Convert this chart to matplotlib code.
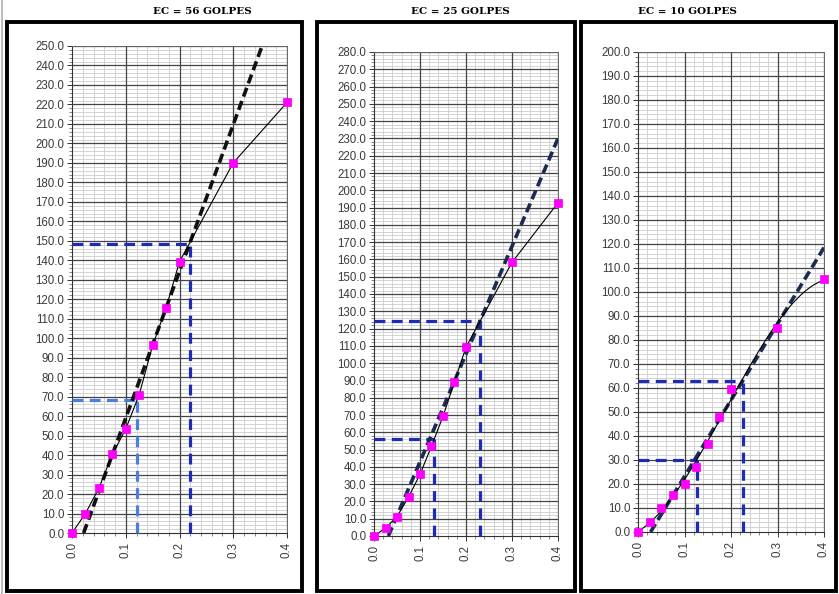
import matplotlib
matplotlib.use("Agg")
import matplotlib.pyplot as plt
import numpy as np
from matplotlib.patches import Rectangle
from matplotlib.lines import Line2D
from matplotlib.ticker import MultipleLocator, FormatStrFormatter

W, H = 839, 594

# ---- data ----
titles = ["EC = 56 GOLPES", "EC = 25 GOLPES", "EC = 10 GOLPES"]
x_pts = [0.0, 0.025, 0.05, 0.075, 0.1, 0.125, 0.15, 0.175, 0.2, 0.3, 0.4]
y56 = [0.0, 10.0, 23.0, 40.3, 53.4, 71.0, 96.3, 115.5, 139.3, 190.0, 221.0]
y25 = [0.0, 4.6, 11.2, 22.5, 35.6, 52.0, 69.2, 89.2, 109.3, 158.3, 192.8]
y10 = [0.0, 4.0, 10.2, 15.6, 20.0, 26.9, 36.5, 48.0, 59.6, 84.8, 105.5]

# straight trend line (start / end points)
trend56_x, trend56_y = [0.0216, 0.3536], [0.0, 250.0]
trend25_x, trend25_y = [0.0312, 0.400], [0.0, 230.0]
trend10_x, trend10_y = [0.027, 0.400], [0.0, 118.5]

# read-off guide lines: (x, y) pairs
guides56 = [(0.22, 148.3), (0.12, 68.3)]
guides25 = [(0.23, 124.3), (0.13, 56.2)]
guides10 = [(0.225, 62.9), (0.127, 30.0)]

ymax = [250, 280, 200]

# ---- layout (pixels) ----
boxes = [(7, 22, 302, 591), (316.5, 22, 574.5, 591), (581, 22, 836, 591)]
axes_px = [(72, 46, 287, 533), (374, 52, 558, 536), (638, 52, 824, 532)]
title_x = [202, 460, 687]

trend_colors = ["#111111", "#1b2a55", "#1b2a55"]
guide_colors = [["#1f2ab5", "#4a7ee0"], ["#1f2ab5", "#1f2ab5"], ["#1f2ab5", "#1f2ab5"]]

fig = plt.figure(figsize=(W / 100, H / 100), dpi=100)
fig.patch.set_facecolor("white")

# faint edge line at the left of the screenshot
fig.add_artist(Line2D([1.5 / W, 1.5 / W], [0, 1], color="#b0b0b0", lw=1.2,
                      transform=fig.transFigure))

series = [
    (y56, trend56_x, trend56_y, guides56),
    (y25, trend25_x, trend25_y, guides25),
    (y10, trend10_x, trend10_y, guides10),
]

for i, (ys, tx, ty, guides) in enumerate(series):
    x0, y0, x1, y1 = boxes[i]
    fig.add_artist(Rectangle((x0 / W, 1 - y1 / H), (x1 - x0) / W, (y1 - y0) / H,
                             fill=False, edgecolor="black", lw=2.8,
                             transform=fig.transFigure))
    fig.text(title_x[i] / W, 1 - 12 / H, titles[i], ha="center", va="center",
             fontsize=7.5, fontweight="bold", family="DejaVu Serif")

    l, t, r, b = axes_px[i]
    ax = fig.add_axes([l / W, 1 - b / H, (r - l) / W, (b - t) / H])
    ax.set_xlim(0, 0.4)
    ax.set_ylim(0, ymax[i])

    ax.xaxis.set_major_locator(MultipleLocator(0.1))
    ax.xaxis.set_minor_locator(MultipleLocator(0.02))
    ax.yaxis.set_major_locator(MultipleLocator(10))
    ax.yaxis.set_minor_locator(MultipleLocator(2))
    ax.xaxis.set_major_formatter(FormatStrFormatter("%.1f"))
    ax.yaxis.set_major_formatter(FormatStrFormatter("%.1f"))

    # light minor grid via the axis, dark major grid drawn on top of it
    ax.grid(which="minor", color="#cccccc", lw=0.6)
    ax.set_axisbelow(True)
    for xv in ax.get_xticks():
        if 0 < xv <= 0.4:
            ax.axvline(xv, color="#444444", lw=0.9, zorder=1)
    for yv in ax.get_yticks():
        if 0 < yv <= ymax[i]:
            ax.axhline(yv, color="#444444", lw=0.9, zorder=1)

    for s in ["left", "bottom"]:
        ax.spines[s].set_color("#333333")
        ax.spines[s].set_linewidth(0.8)
    for s in ["top", "right"]:
        ax.spines[s].set_color("#666666")
        ax.spines[s].set_linewidth(0.7)

    ax.tick_params(which="major", length=3.5, width=0.7, color="#333333",
                   labelsize=8.3, labelcolor="#3a3a3a")
    ax.tick_params(which="minor", length=2, width=0.5, color="#555555")
    ax.tick_params(axis="x", labelrotation=90, pad=3)
    ax.tick_params(axis="y", pad=2)
    for lab in ax.get_xticklabels() + ax.get_yticklabels():
        lab.set_family("Liberation Sans")

    # guide lines (drawn first, trend and data on top)
    for g, (gx, gy) in enumerate(guides):
        c = guide_colors[i][g]
        ax.plot([0, gx], [gy, gy], color=c, lw=2.3, ls=(0, (3.4, 2.0)),
                dash_capstyle="butt", zorder=3, clip_on=False)
        ax.plot([gx, gx], [0, gy], color=c, lw=2.3, ls=(0, (3.4, 2.0)),
                dash_capstyle="butt", zorder=3, clip_on=False)

    ax.plot(tx, ty, color=trend_colors[i], lw=2.6, ls=(0, (2.6, 1.3)),
            dash_capstyle="butt", zorder=4)

    if i == 2:
        coef = np.polyfit(x_pts, ys, 3)
        xs = np.linspace(0, 0.4, 200)
        ax.plot(xs, np.polyval(coef, xs), color="black", lw=0.8, zorder=5)
    else:
        ax.plot(x_pts, ys, color="black", lw=0.8, zorder=5)

    ax.plot(x_pts, ys, ls="none", marker="s", ms=5.8, mfc="#ff00ff",
            mec="#ee00ee", mew=0.5, zorder=6, clip_on=False)

fig.savefig("out.png", dpi=100, facecolor="white")
